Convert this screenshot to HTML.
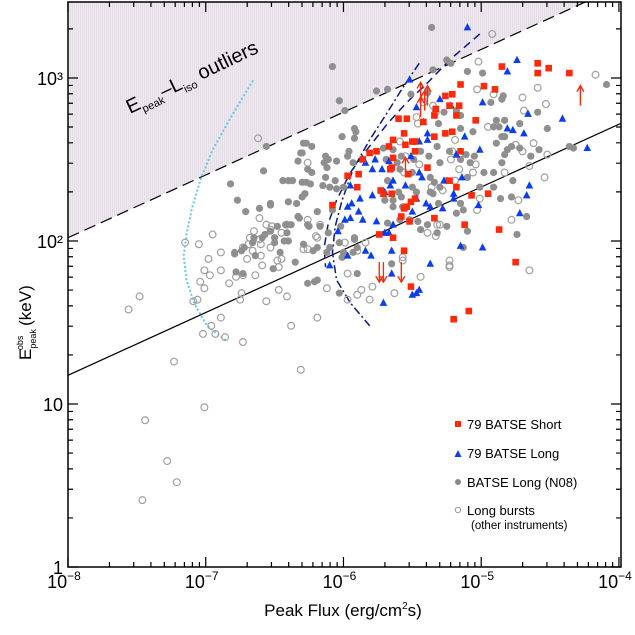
<!DOCTYPE html>
<html><head><meta charset="utf-8">
<style>
html,body{margin:0;padding:0;background:#fff;}
svg{display:block;font-family:"Liberation Sans",sans-serif;}
</style></head>
<body>
<svg id="chart" width="635" height="635" viewBox="0 0 635 635" xmlns="http://www.w3.org/2000/svg">
<defs>
<pattern id="hatch" width="2" height="4" patternUnits="userSpaceOnUse">
<rect width="2" height="4" fill="#eee8ef"/><rect width="1" height="4" fill="#e6dee7"/>
</pattern>
<clipPath id="plotclip"><rect x="68" y="2" width="553" height="565"/></clipPath>
</defs>
<g id="shade" clip-path="url(#plotclip)"></g>
<g id="lines" clip-path="url(#plotclip)"></g>
<g id="points" clip-path="url(#plotclip)"></g>
<g id="axes"></g>
<text transform="translate(130,114) rotate(-25.5)" font-size="20" fill="#000">E<tspan font-size="11" dy="5">peak</tspan><tspan dy="-5">–L</tspan><tspan font-size="11" dy="5">iso</tspan><tspan dy="-5"> outliers</tspan></text>
<text x="343" y="616" font-size="17" text-anchor="middle">Peak Flux (erg/cm<tspan font-size="10" dy="-7">2</tspan><tspan dy="7">s)</tspan></text>
<text transform="translate(31,360) rotate(-90)" font-size="17">E<tspan font-size="9" dy="5">peak</tspan><tspan font-size="9" dx="-21" dy="-13">obs</tspan><tspan dx="5" dy="8"> (keV)</tspan></text>
<g id="legend" font-size="13">
<rect x="455" y="421" width="6" height="6" fill="#ff2a0a"/>
<text x="467" y="429">79 BATSE Short</text>
<polygon points="458,450 454.5,457 461.5,457" fill="#0a3cf0"/>
<text x="467" y="458">79 BATSE Long</text>
<circle cx="458" cy="482" r="3" fill="#8a8a8a"/>
<text x="467" y="487">BATSE Long (N08)</text>
<circle cx="458" cy="510" r="2.7" fill="none" stroke="#999" stroke-width="1"/>
<text x="467" y="515">Long bursts</text>
<text x="471" y="529" font-size="11.5">(other instruments)</text>
</g>
</svg>
<script>
// values are [log10(peak flux), log10(Epeak keV)]
const xTickExps = [-8, -7, -6, -5, -4];
const yTickLabels = ['1', '10', '10²', '10³'];
const xDomain = [-8, -3.985];
const yDomain = [0, 3.466];
const otherLong = [[-6.95,2.04],[-7.15,1.99],[-7.05,1.98],[-6.89,1.93],[-6.98,1.89],[-7.01,1.82],[-6.89,1.82],[-6.97,1.79],[-7.04,1.75],[-7.01,1.71],[-6.83,1.74],[-6.78,1.78],[-6.73,1.79],[-6.64,1.79],[-6.74,1.68],[-6.75,1.64],[-7.09,1.63],[-7.06,1.64],[-7.48,1.66],[-7.56,1.58],[-6.56,1.63],[-6.47,1.70],[-6.41,1.66],[-6.89,1.53],[-6.96,1.48],[-7.02,1.43],[-6.93,1.43],[-6.86,1.41],[-6.73,1.38],[-6.38,1.48],[-6.19,1.53],[-7.23,1.26],[-6.31,1.21],[-6.66,1.94],[-6.70,1.89],[-6.60,1.91],[-6.59,1.85],[-6.48,1.88],[-6.45,1.89],[-6.47,1.84],[-6.73,1.96],[-6.69,1.98],[-6.68,2.02],[-6.65,2.06],[-6.60,1.98],[-6.53,1.96],[-6.52,2.09],[-6.56,2.10],[-6.41,2.10],[-6.29,1.95],[-6.26,1.95],[-6.20,2.03],[-6.17,2.10],[-6.12,1.71],[-5.99,1.99],[-5.97,1.80],[-5.97,1.64],[-5.90,1.67],[-5.87,1.70],[-5.81,1.64],[-5.79,1.72],[-5.63,1.68],[-5.57,1.90],[-5.57,1.88],[-5.44,1.78],[-5.23,1.84],[-5.32,2.10],[-5.39,2.05],[-5.84,1.99],[-5.90,1.94],[-6.62,2.63],[-6.26,2.48],[-6.26,2.13],[-6.19,2.02],[-6.61,2.01],[-6.61,2.14],[-6.53,2.07],[-6.45,2.05],[-5.02,3.10],[-4.17,3.02],[-4.59,2.94],[-4.70,2.88],[-5.03,2.93],[-4.91,2.90],[-4.53,2.84],[-4.69,2.80],[-5.47,2.76],[-5.35,2.83],[-5.33,2.79],[-4.95,2.70],[-5.19,2.62],[-4.62,2.60],[-4.70,2.55],[-4.75,2.59],[-4.52,2.53],[-4.65,2.46],[-4.83,2.42],[-4.54,2.39],[-5.21,2.55],[-5.16,2.53],[-5.22,2.50],[-5.16,2.44],[-5.01,2.26],[-5.03,2.19],[-4.73,2.25],[-4.78,2.13],[-4.65,1.82],[-5.23,1.88],[-5.23,1.85],[-5.33,2.03],[-5.30,2.10],[-5.56,2.42],[-5.28,2.31],[-5.36,2.33],[-5.45,2.47],[-5.41,2.89],[-5.42,2.85],[-5.06,2.42],[-5.04,2.47],[-5.19,2.37],[-5.55,2.52],[-5.46,2.72],[-5.59,2.61],[-4.92,3.27],[-7.46,0.41],[-7.44,0.90],[-7.28,0.65],[-7.21,0.52],[-7.01,0.98]];
const batseN08 = [[-6.08,3.07],[-6.03,2.86],[-5.99,2.80],[-5.92,2.69],[-6.01,2.64],[-5.92,2.63],[-6.27,2.60],[-6.23,2.58],[-6.56,2.58],[-6.13,2.52],[-6.11,2.50],[-6.14,2.48],[-6.12,2.45],[-6.33,2.49],[-6.26,2.44],[-6.23,2.42],[-5.97,2.52],[-5.93,2.48],[-6.82,2.35],[-6.44,2.37],[-6.40,2.37],[-6.37,2.37],[-6.27,2.36],[-6.24,2.35],[-6.15,2.34],[-6.06,2.37],[-6.00,2.33],[-6.30,2.27],[-6.34,2.23],[-6.40,2.24],[-6.53,2.23],[-6.61,2.20],[-6.77,2.25],[-6.08,2.19],[-6.19,2.18],[-6.33,2.15],[-6.48,2.09],[-6.42,2.10],[-6.41,2.05],[-6.26,2.10],[-6.17,2.09],[-6.11,2.05],[-5.92,2.02],[-6.57,2.04],[-6.50,1.99],[-6.40,2.00],[-6.66,1.99],[-6.72,1.96],[-6.74,1.94],[-6.79,1.93],[-6.46,1.93],[-6.19,1.96],[-6.12,1.93],[-6.00,1.93],[-5.90,1.96],[-6.35,1.87],[-6.51,1.83],[-6.26,1.74],[-6.03,1.68],[-5.91,2.67],[-6.31,2.54],[-6.05,2.49],[-5.96,2.55],[-6.13,2.39],[-6.10,2.33],[-6.05,2.32],[-6.58,2.43],[-6.71,2.18],[-6.53,2.22],[-6.32,2.14],[-6.25,2.09],[-6.38,2.10],[-6.53,2.06],[-6.59,2.02],[-6.65,2.02],[-6.50,2.02],[-6.43,2.00],[-6.29,1.98],[-6.79,1.92],[-6.64,1.91],[-6.78,1.81],[-6.73,1.80],[-6.21,1.75],[-5.90,1.80],[-6.02,2.09],[-6.10,1.96],[-6.03,1.99],[-5.93,1.93],[-6.01,1.90],[-5.10,3.04],[-4.99,3.03],[-5.35,3.05],[-5.22,3.09],[-5.51,2.90],[-5.39,2.91],[-5.27,2.79],[-5.18,2.80],[-5.15,2.77],[-5.31,2.72],[-5.06,2.67],[-5.15,2.69],[-4.93,2.85],[-4.84,2.89],[-4.85,2.87],[-4.59,2.79],[-4.52,2.69],[-4.72,2.72],[-4.89,2.74],[-4.87,2.70],[-4.83,2.74],[-4.91,2.70],[-4.85,2.64],[-4.83,2.64],[-4.89,2.60],[-4.81,2.56],[-4.78,2.58],[-4.72,2.57],[-4.58,2.56],[-4.36,2.58],[-4.33,2.57],[-4.09,2.96],[-5.44,2.55],[-5.32,2.58],[-5.23,2.55],[-5.11,2.53],[-5.05,2.52],[-5.08,2.48],[-5.15,2.50],[-5.30,2.48],[-5.38,2.52],[-5.49,2.50],[-5.61,2.48],[-5.69,2.50],[-5.71,2.57],[-5.64,2.56],[-5.58,2.52],[-5.59,2.44],[-5.50,2.42],[-5.37,2.39],[-5.34,2.36],[-5.30,2.33],[-5.25,2.37],[-5.35,2.29],[-5.15,2.23],[-5.10,2.39],[-4.98,2.42],[-4.91,2.42],[-4.85,2.48],[-4.83,2.53],[-4.77,2.37],[-4.64,2.52],[-4.86,2.26],[-4.78,2.27],[-5.01,2.33],[-5.13,2.19],[-5.18,2.17],[-5.25,2.09],[-5.39,2.10],[-5.44,2.07],[-5.32,2.05],[-5.10,2.06],[-5.13,1.96],[-4.74,2.04],[-4.67,2.15],[-5.46,2.12],[-5.52,2.13],[-5.59,2.13],[-5.68,2.11],[-5.65,1.86],[-5.57,2.21],[-5.64,2.21],[-5.64,2.25],[-5.70,2.25],[-5.68,2.37],[-5.60,2.30],[-5.50,2.33],[-5.47,2.30],[-5.58,2.27],[-4.91,2.33],[-5.37,2.30],[-5.31,2.23],[-5.36,3.31],[-5.76,2.92],[-5.68,2.93],[-5.25,3.11],[-6.29,2.60],[-6.30,2.54],[-6.30,2.36],[-6.28,2.29],[-6.22,1.94],[-6.19,1.76],[-5.92,2.01]];
const batseLong = [[-4.74,3.11],[-5.10,3.31],[-4.81,3.04],[-5.52,2.99],[-4.99,2.85],[-5.30,2.87],[-5.47,2.82],[-5.22,2.83],[-5.42,2.73],[-4.66,2.78],[-4.41,2.75],[-4.81,2.69],[-4.77,2.68],[-4.69,2.66],[-5.39,2.66],[-5.39,2.62],[-5.45,2.61],[-5.12,2.64],[-5.01,2.56],[-5.18,2.53],[-5.51,2.52],[-5.72,2.44],[-5.45,2.42],[-5.43,2.39],[-5.64,2.37],[-5.55,2.34],[-5.27,2.37],[-5.14,2.39],[-5.70,2.30],[-4.65,2.34],[-4.67,2.28],[-5.20,2.29],[-5.20,2.26],[-5.47,2.26],[-5.40,2.23],[-5.37,2.21],[-5.28,2.20],[-5.02,2.22],[-5.50,2.18],[-4.72,2.17],[-5.64,2.10],[-5.70,2.05],[-5.67,2.05],[-5.65,1.94],[-5.65,1.80],[-5.37,1.86],[-4.99,1.96],[-5.15,1.97],[-5.50,1.67],[-5.47,1.68],[-5.45,1.70],[-4.23,2.57],[-5.71,1.62],[-5.77,2.50],[-5.84,2.48],[-5.79,2.44],[-5.67,2.49],[-5.66,2.34],[-5.79,2.28],[-5.88,2.26],[-5.95,2.34],[-5.94,2.23],[-5.97,2.21],[-5.89,2.18],[-5.86,2.13],[-5.95,2.14],[-5.99,2.13],[-6.04,2.06],[-5.76,2.12],[-5.84,1.94],[-5.80,1.91],[-5.97,1.91],[-6.10,1.85]];
const batseShort = [[-4.85,3.07],[-4.59,3.09],[-4.59,3.03],[-4.51,3.06],[-4.36,3.03],[-5.15,2.96],[-4.98,2.95],[-4.90,2.93],[-5.26,2.89],[-5.21,2.90],[-5.23,2.83],[-5.16,2.83],[-5.33,2.81],[-5.34,2.77],[-5.18,2.77],[-5.04,2.74],[-5.60,2.75],[-5.54,2.75],[-5.42,2.73],[-5.21,2.67],[-5.26,2.66],[-5.34,2.64],[-5.56,2.66],[-5.64,2.62],[-5.50,2.61],[-5.48,2.61],[-5.55,2.59],[-5.15,2.55],[-5.48,2.55],[-5.67,2.58],[-5.64,2.51],[-5.65,2.45],[-5.39,2.45],[-5.53,2.41],[-5.23,2.37],[-5.18,2.33],[-5.73,2.31],[-5.65,2.29],[-5.07,2.28],[-4.95,2.29],[-5.48,2.26],[-5.51,2.24],[-5.54,2.21],[-5.56,2.20],[-5.58,2.15],[-5.52,2.12],[-5.34,2.14],[-5.12,2.10],[-4.87,2.07],[-5.64,2.02],[-5.56,1.94],[-4.75,1.87],[-5.51,1.72],[-5.09,1.57],[-5.20,1.52],[-5.74,2.04],[-6.08,2.22],[-5.89,2.41],[-5.90,2.33],[-5.97,2.40],[-5.86,2.50],[-5.81,2.54],[-5.76,2.55],[-5.66,2.44],[-5.71,2.29]];
const lowerLimits = [[-5.44,2.85],[-5.44,2.76],[-5.41,2.80],[-5.39,2.83],[-5.55,2.39],[-4.28,2.83]];
const upperLimits = [[-5.74,1.87],[-5.71,1.87],[-5.58,1.87]];
const dottedCurve = [[-6.66,2.98],[-6.81,2.77],[-6.95,2.56],[-7.04,2.37],[-7.10,2.20],[-7.14,2.04],[-7.16,1.91],[-7.14,1.76],[-7.08,1.61],[-6.99,1.48],[-6.84,1.38]];
const dashedCurve = [[-5.01,3.27],[-5.23,3.11],[-5.39,2.97],[-5.54,2.85],[-5.68,2.72],[-5.83,2.56],[-5.95,2.42],[-6.05,2.25],[-6.11,2.11],[-6.14,1.96],[-6.13,1.84]];
const dashDotCurve = [[-5.45,3.09],[-5.57,2.94],[-5.68,2.79],[-5.81,2.62],[-5.93,2.44],[-6.01,2.25],[-6.06,2.09],[-6.08,1.93],[-6.05,1.76],[-5.95,1.62],[-5.81,1.48]];
// relations: log E = a + slope*(logF + 8)
const boundaryIntercept = 2.02, fitIntercept = 1.176, relSlope = 0.385;

const L = 68, R = 621, T = 2, B = 567;
const xs = v => L + (v - xDomain[0]) / (xDomain[1] - xDomain[0]) * (R - L);
const ys = v => B - (v - yDomain[0]) / (yDomain[1] - yDomain[0]) * (B - T);
const NS = 'http://www.w3.org/2000/svg';
function mk(tag, attrs, parent) {
  const e = document.createElementNS(NS, tag);
  for (const k in attrs) e.setAttribute(k, attrs[k]);
  parent.appendChild(e); return e;
}
const shade = document.getElementById('shade');
const lines = document.getElementById('lines');
const pts = document.getElementById('points');
const axes = document.getElementById('axes');

// shaded region above boundary
const bx0 = xDomain[0], bx1 = xDomain[1];
const by0 = boundaryIntercept + relSlope * (bx0 + 8), by1 = boundaryIntercept + relSlope * (bx1 + 8);
let poly = mk('polygon', {points: `${xs(bx0)},${ys(by0)} ${xs(bx1)},${ys(by1)} ${R},${T} ${L},${T}`, fill: 'url(#hatch)'}, shade);


let bl = mk('line', {x1: xs(bx0), y1: ys(by0), x2: xs(bx1), y2: ys(by1), stroke: '#000', 'stroke-width': 1.2, 'stroke-dasharray': '12 6'}, lines);


let fl = mk('line', {x1: xs(bx0), y1: ys(fitIntercept), x2: xs(bx1), y2: ys(fitIntercept + relSlope * (bx1 + 8)), stroke: '#000', 'stroke-width': 1.2}, lines);



function curve(data, attrs, name) {
  const p = mk('polyline', Object.assign({points: data.map(d => xs(d[0]) + ',' + ys(d[1])).join(' '), fill: 'none'}, attrs), lines);
  
  
}
curve(dottedCurve, {stroke: '#6cc4f4', 'stroke-width': 2.2, 'stroke-dasharray': '0.1 4', 'stroke-linecap': 'round'}, 'dotted-curve');
curve(dashedCurve, {stroke: '#0c1a80', 'stroke-width': 1.5, 'stroke-dasharray': '8 5'}, 'dashed-curve');
curve(dashDotCurve, {stroke: '#0c1a80', 'stroke-width': 1.5, 'stroke-dasharray': '8 3 2 3'}, 'dash-dot-curve');

otherLong.forEach(d => {
  const c = mk('circle', {cx: xs(d[0]), cy: ys(d[1]), r: 3.4, fill: 'none', stroke: '#a0a0a0', 'stroke-width': 1.2}, pts);
  
  
});
batseN08.forEach(d => {
  const c = mk('circle', {cx: xs(d[0]), cy: ys(d[1]), r: 3.6, fill: '#8f8f8f'}, pts);
  
  
});
batseLong.forEach(d => {
  const x = xs(d[0]), y = ys(d[1]);
  const t = mk('polygon', {points: `${x},${y-4.3} ${x-3.8},${y+3} ${x+3.8},${y+3}`, fill: '#0a3cf0'}, pts);
  
  
});
batseShort.forEach(d => {
  const s = mk('rect', {x: xs(d[0]) - 3.3, y: ys(d[1]) - 3.3, width: 6.6, height: 6.6, fill: '#ff2a0a'}, pts);
  
  
});
function arrow(d, dir, name) {
  const x = xs(d[0]), y = ys(d[1]), y2 = y + dir * 20;
  const g = mk('path', {d: `M${x},${y} L${x},${y2} M${x-3.5},${y2 - dir*6} L${x},${y2} L${x+3.5},${y2 - dir*6}`, stroke: '#ff2a0a', 'stroke-width': 1.4, fill: 'none'}, pts);
  
  
}
lowerLimits.forEach(d => arrow(d, -1, 'lower-limit-arrow'));
upperLimits.forEach(d => arrow(d, 1, 'upper-limit-arrow'));

// axes frame
const fr = mk('rect', {x: L, y: T, width: R - L, height: B - T, fill: 'none', stroke: '#000', 'stroke-width': 1.5}, axes);


let tk = '';
for (let dec = -8; dec <= -4; dec++) {
  for (let m = 1; m <= 9; m++) {
    const v = dec + Math.log10(m);
    if (v > xDomain[1] + 1e-6) continue;
    const x = xs(v), len = m === 1 ? 10 : 5;
    tk += `M${x},${B}v${-len}M${x},${T}v${len}`;
  }
}
for (let dec = 0; dec <= 3; dec++) {
  for (let m = 1; m <= 9; m++) {
    const v = dec + Math.log10(m);
    if (v > yDomain[1]) continue;
    const y = ys(v), len = m === 1 ? 10 : 5;
    tk += `M${L},${y}h${len}M${R},${y}h${-len}`;
  }
}
const tp = mk('path', {d: tk, stroke: '#000', 'stroke-width': 1.2, fill: 'none'}, axes);


xTickExps.forEach(e => {
  const t = mk('text', {x: xs(e) - 4, y: 588, 'font-size': 18, 'text-anchor': 'middle'}, axes);
  
  
  t.textContent = '10';
  const s = mk('tspan', {dy: -8, 'font-size': 12}, t);
  s.textContent = '−' + Math.abs(e);
});
yTickLabels.forEach((lab, i) => {
  const t = mk('text', {x: 63, y: ys(i) + 7, 'font-size': 18, 'text-anchor': 'end'}, axes);
  
  
  t.textContent = lab;
});
</script>
</body></html>
